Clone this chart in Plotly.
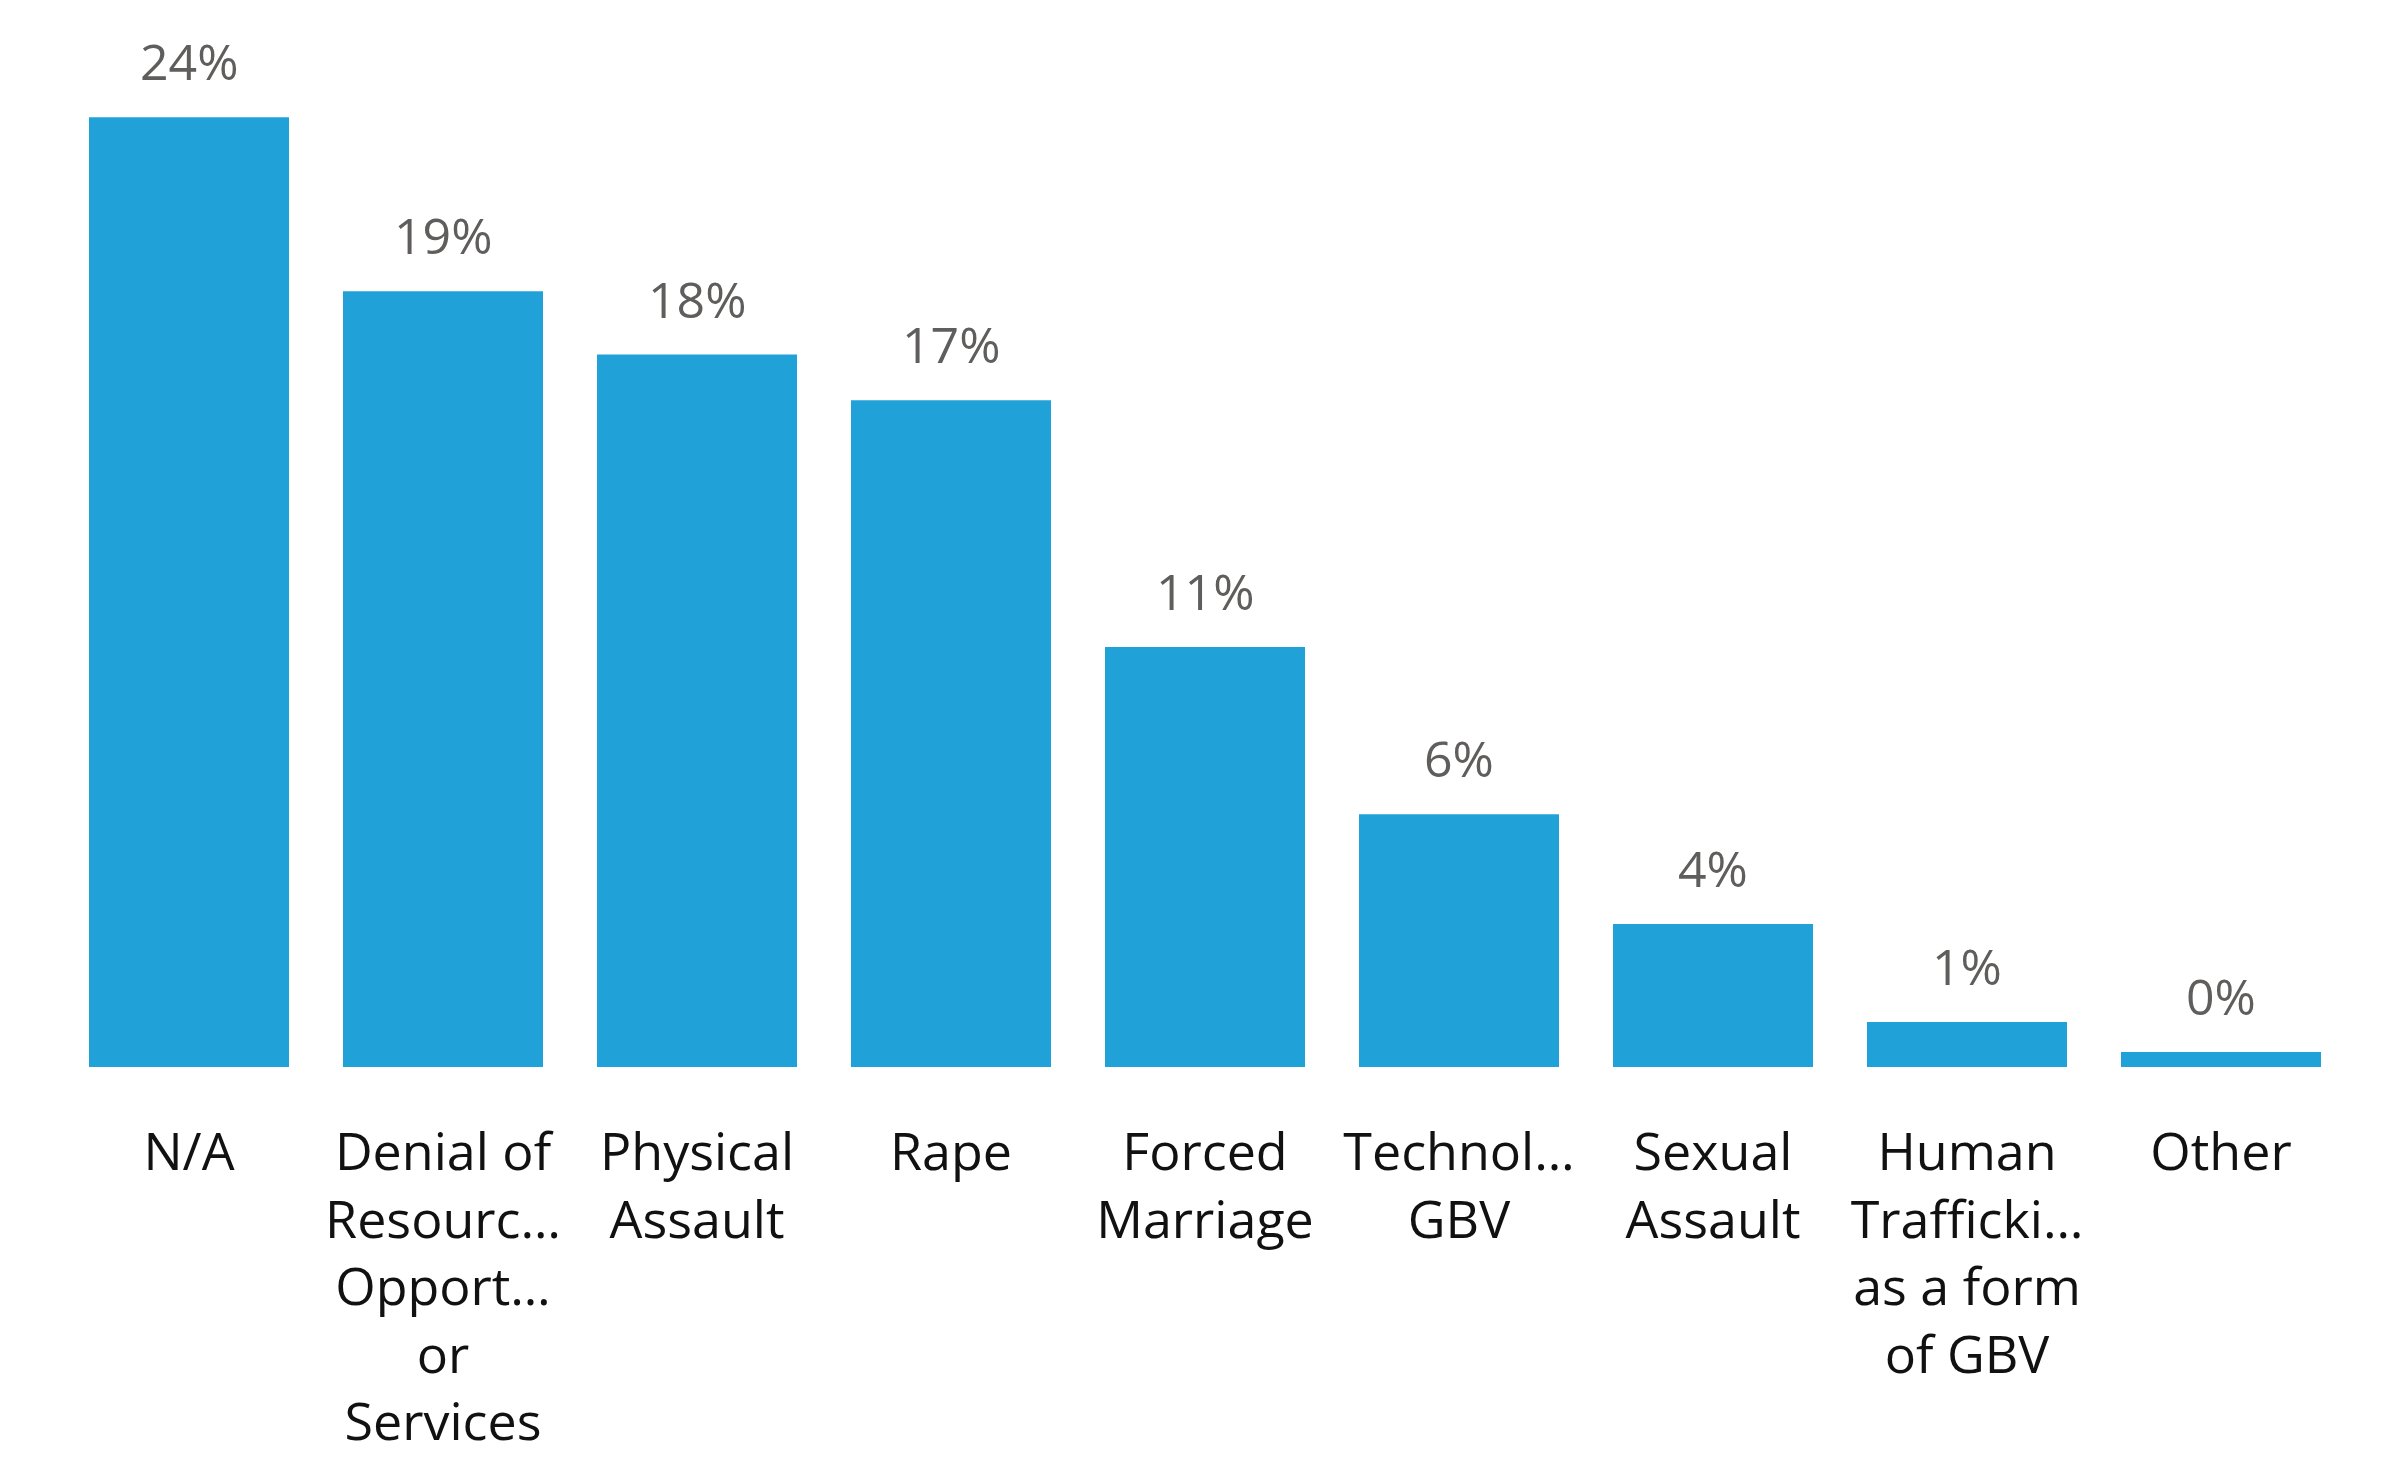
import plotly.graph_objects as go

# categories (with the wrapped / truncated text as shown on the axis)
categories = ['N/A', 'Denial of Resources', 'Physical Assault', 'Rape',
              'Forced Marriage', 'Technology GBV', 'Sexual Assault',
              'Human Trafficking', 'Other']
tick_labels = ['N/A',
               'Denial of<br>Resourc…<br>Opport…<br>or<br>Services',
               'Physical<br>Assault',
               'Rape',
               'Forced<br>Marriage',
               'Technol…<br>GBV',
               'Sexual<br>Assault',
               'Human<br>Trafficki…<br>as a form<br>of GBV',
               'Other']
# share of total, in percent
share = [23.86, 19.49, 17.90, 16.75, 10.55, 6.35, 3.59, 1.13, 0.38]

bar_color = '#20A2D9'
label_color = '#605E5C'
font_family = 'Open Sans, Noto Sans, sans-serif'

fig = go.Figure(go.Bar(
    x=categories,
    y=share,
    marker=dict(color=bar_color, line=dict(width=0)),
    hoverinfo='x+y',
))

# data labels above each bar
for cat, val in zip(categories, share):
    fig.add_annotation(
        x=cat, y=val,
        text='%.0f%%' % val,
        showarrow=False,
        yanchor='middle',
        yshift=56,
        font=dict(family=font_family, size=50, color=label_color),
    )

fig.update_layout(
    width=2400, height=1461,
    margin=dict(l=54, r=60, t=64, b=402),
    paper_bgcolor='white',
    plot_bgcolor='white',
    bargap=0.2126,
    showlegend=False,
    font=dict(family=font_family, size=50, color='#111111'),
)
fig.update_xaxes(
    tickmode='array',
    tickvals=categories,
    ticktext=tick_labels,
    tickangle=0,
    showgrid=False,
    showline=False,
    zeroline=False,
    ticks='',
    ticklabelstandoff=50,
    tickfont=dict(family=font_family, size=52, color='#111111'),
)
fig.update_yaxes(
    range=[0, 25],
    visible=False,
    showgrid=False,
    zeroline=False,
)

fig.write_html('out.html')
